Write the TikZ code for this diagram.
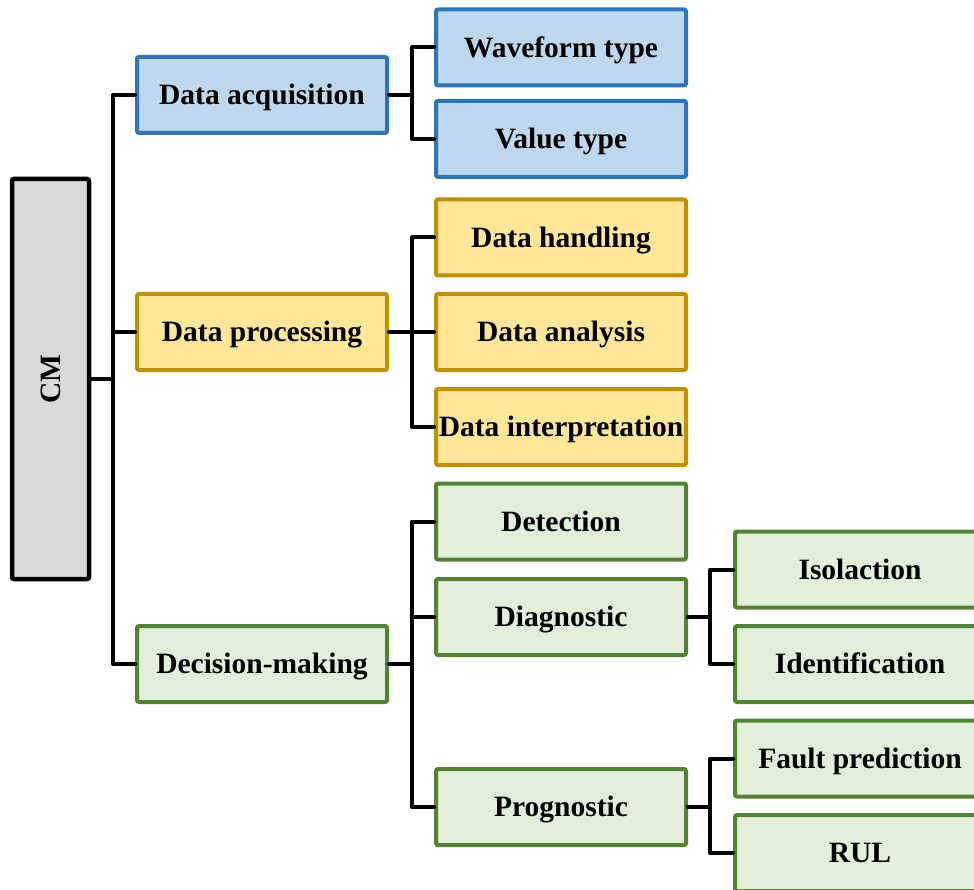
\documentclass[tikz,border=0pt]{standalone}
\usepackage{fontspec}
\setmainfont{Liberation Serif}
\begin{document}
\begin{tikzpicture}[x=1pt,y=-1pt,
  box/.style={draw, rounded corners=2pt, line width=4pt, minimum width=250pt,
    minimum height=76pt, inner xsep=1pt, text height=19.5pt, text depth=0pt,
    font=\fontsize{29.5}{32}\selectfont\bfseries},
  bluebox/.style={box, draw=acqline, fill=acqfill},
  yellowbox/.style={box, draw=procline, fill=procfill},
  greenbox/.style={box, draw=decline, fill=decfill},
  link/.style={line width=4pt, line join=round, line cap=round}]
\definecolor{acqfill}{HTML}{BDD7EE}
\definecolor{acqline}{HTML}{2E75B6}
\definecolor{procfill}{HTML}{FFE699}
\definecolor{procline}{HTML}{BF9000}
\definecolor{decfill}{HTML}{E2EFDA}
\definecolor{decline}{HTML}{548235}
\definecolor{rootfill}{HTML}{D9D9D9}
\useasboundingbox (0,0) rectangle (974,890);
\clip (0,0) rectangle (974,890);

% root
\node[draw, fill=rootfill, line width=4.5pt, rounded corners=2pt, minimum width=77pt,
  minimum height=400pt, font=\fontsize{29.5}{32}\selectfont\bfseries] (cm) at (50.5,379)
  {\rotatebox{90}{CM}};

% first level
\node[bluebox]   (da) at (262,95)  {Data acquisition};
\node[yellowbox] (dp) at (262,332) {Data processing};
\node[greenbox]  (dm) at (262,664) {Decision-making};

% second level
\node[bluebox]   (wf) at (561,47.5) {Waveform type};
\node[bluebox]   (vt) at (561,139)  {Value type};
\node[yellowbox] (dh) at (561,237.5) {Data handling};
\node[yellowbox] (dn) at (561,332)  {Data analysis};
\node[yellowbox] (di) at (561,427)  {Data interpretation};
\node[greenbox]  (de) at (561,521.5) {Detection};
\node[greenbox]  (dg) at (561,617)  {Diagnostic};
\node[greenbox]  (pg) at (561,807)  {Prognostic};

% third level
\node[greenbox] (is) at (860,569.5) {Isolaction};
\node[greenbox] (id) at (860,664)   {Identification};
\node[greenbox] (fp) at (860,758.5) {Fault prediction};
\node[greenbox] (ru) at (860,853)   {RUL};

% bus lines
\coordinate (b1) at (112.7,0);
\coordinate (b2) at (411.7,0);
\coordinate (b3) at (710,0);

\draw[link] (cm.east) -- (cm.east -| b1);
\draw[link] (da.west) -- (da.west -| b1) -- (dm.west -| b1) -- (dm.west);
\draw[link] (dp.west) -- (dp.west -| b1);

\draw[link] (da.east) -- (da.east -| b2);
\draw[link] (wf.west) -- (wf.west -| b2) -- (vt.west -| b2) -- (vt.west);

\draw[link] (dh.west) -- (dh.west -| b2) -- (di.west -| b2) -- (di.west);
\draw[link] (dp.east) -- (dn.west);

\draw[link] (dm.east) -- (dm.east -| b2);
\draw[link] (de.west) -- (de.west -| b2) -- (pg.west -| b2) -- (pg.west);
\draw[link] (dg.west) -- (dg.west -| b2);

\draw[link] (dg.east) -- (dg.east -| b3);
\draw[link] (is.west) -- (is.west -| b3) -- (id.west -| b3) -- (id.west);

\draw[link] (pg.east) -- (pg.east -| b3);
\draw[link] (fp.west) -- (fp.west -| b3) -- (ru.west -| b3) -- (ru.west);
\end{tikzpicture}
\end{document}
